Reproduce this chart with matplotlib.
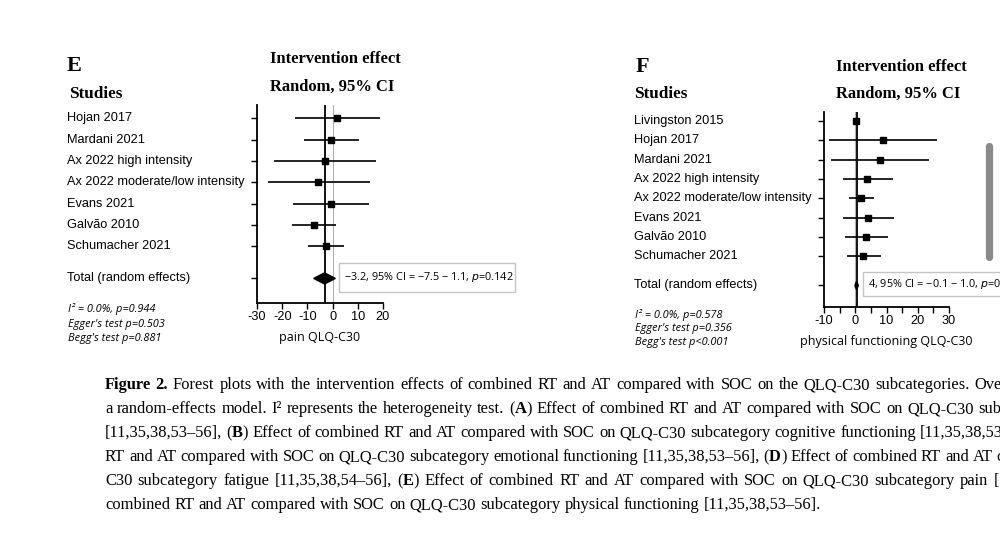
import numpy as np
import matplotlib
matplotlib.use('Agg')
import matplotlib.pyplot as plt
import matplotlib.transforms as mtransforms
from matplotlib.patches import Rectangle, Polygon
from matplotlib.lines import Line2D

# ---- data ----
studies_e = ['Hojan 2017', 'Mardani 2021', 'Ax 2022 high intensity',
             'Ax 2022 moderate/low intensity', 'Evans 2021', 'Galvão 2010',
             'Schumacher 2021']
est_e = [1.9, -0.6, -3.0, -5.7, -0.6, -7.4, -2.7]
lo_e = [-14.8, -11.4, -23.1, -25.7, -15.6, -16.0, -9.8]
hi_e = [18.9, 10.6, 17.2, 14.9, 14.6, 1.4, 4.4]
total_e = [-3.2, -7.5, 1.1]
stats_e = ['I² = 0.0%, p=0.944', "Egger's test p=0.503", "Begg's test p=0.881"]

studies_f = ['Livingston 2015', 'Hojan 2017', 'Mardani 2021', 'Ax 2022 high intensity',
             'Ax 2022 moderate/low intensity', 'Evans 2021', 'Galvão 2010',
             'Schumacher 2021']
est_f = [0.3, 8.8, 7.8, 3.8, 1.8, 4.0, 3.4, 2.6]
lo_f = [0.0, -8.5, -7.8, -4.0, -2.1, -4.0, -3.4, -2.7]
hi_f = [0.6, 26.3, 23.6, 12.0, 6.0, 12.4, 10.4, 8.1]
total_f = [0.4, -0.1, 1.0]
stats_f = ['I² = 0.0%, p=0.578', "Egger's test p=0.356", "Begg's test p<0.001"]

caption = [
    ['**Figure** **2.**', 'Forest', 'plots', 'with', 'the', 'intervention', 'effects', 'of', 'combined', 'RT',
     'and', 'AT', 'compared', 'with', 'SOC', 'on', 'the', 'QLQ-C30', 'subcategories.', 'Ove'],
    ['a', 'random-effects', 'model.', 'I²', 'represents', 'the', 'heterogeneity', 'test.', '(**A**)', 'Effect',
     'of', 'combined', 'RT', 'and', 'AT', 'compared', 'with', 'SOC', 'on', 'QLQ-C30', 'sub'],
    ['[11,35,38,53–56],', '(**B**)', 'Effect', 'of', 'combined', 'RT', 'and', 'AT', 'compared', 'with', 'SOC',
     'on', 'QLQ-C30', 'subcategory', 'cognitive', 'functioning', '[11,35,38,53'],
    ['RT', 'and', 'AT', 'compared', 'with', 'SOC', 'on', 'QLQ-C30', 'subcategory', 'emotional', 'functioning',
     '[11,35,38,53–56],', '(**D**)', 'Effect', 'of', 'combined', 'RT', 'and', 'AT', 'c'],
    ['C30', 'subcategory', 'fatigue', '[11,35,38,54–56],', '(**E**)', 'Effect', 'of', 'combined', 'RT', 'and',
     'AT', 'compared', 'with', 'SOC', 'on', 'QLQ-C30', 'subcategory', 'pain', '['],
    ['combined', 'RT', 'and', 'AT', 'compared', 'with', 'SOC', 'on', 'QLQ-C30', 'subcategory', 'physical',
     'functioning', '[11,35,38,53–56].'],
]

plt.rcParams.update({'font.family': 'Liberation Sans', 'axes.unicode_minus': False})

W, H = 1000, 543
fig = plt.figure(figsize=(W / 100, H / 100), dpi=100, facecolor='white')
renderer = fig.canvas.get_renderer()

def fx(x): return x / W
def fy(y): return 1 - y / H

SERIF = 'Liberation Serif'
SANS2 = 'Open Sans'


def forest(box, xlim, row0, row_h, studies, est, lo, hi, total, xt_major, xt_minor,
           xlabel, xlab_y, lab_x, stats, stat_x, stat_y, stat_dy, head, ann_box, ann_text, diam_h):
    l, t, r, b = box
    ax = fig.add_axes([fx(l), fy(b), (r - l) / W, (b - t) / H])
    n = len(studies)
    ypos = np.arange(n)
    ytot = n - 1 + 1.5
    ax.set_xlim(*xlim)
    ax.set_ylim((b - row0) / row_h, (t - row0) / row_h)
    for s in ['top', 'right']:
        ax.spines[s].set_visible(False)
    for s in ['left', 'bottom']:
        ax.spines[s].set_linewidth(1.3)
    ax.patch.set_alpha(0)
    ax.axvline(0, color='#b0b0b0', lw=0.8, zorder=1)
    ax.axvline(total[0], color='black', lw=1.3, zorder=2)
    ax.hlines(ypos, lo, hi, color='black', lw=1.2, zorder=3)
    ax.plot(est, ypos, ls='none', marker='s', ms=4.0, color='black', zorder=4)
    dx = [total[1], total[0], total[2], total[0]]
    dy = [ytot, ytot - diam_h, ytot, ytot + diam_h]
    ax.add_patch(Polygon(np.column_stack([dx, dy]), closed=True, color='black', zorder=4))
    ax.set_yticks(list(ypos) + [ytot])
    ax.tick_params(axis='y', length=4.5, width=1, direction='out', labelleft=False)
    ax.set_xticks(xt_major)
    ax.set_xticks(xt_minor, minor=True)
    ax.tick_params(axis='x', which='both', length=4, width=1, direction='out', labelsize=9.2, pad=2)
    tr = mtransforms.blended_transform_factory(fig.transFigure, ax.transData)
    for name, yy in zip(list(studies) + ['Total (random effects)'], list(ypos) + [ytot]):
        ax.text(fx(lab_x), yy, name, transform=tr, fontsize=9.2, va='center', ha='left')
    fig.text(fx((l + r) / 2), fy(xlab_y), xlabel, fontsize=9, family=SANS2, ha='center', va='center')
    for i, s in enumerate(stats):
        fig.text(fx(stat_x), fy(stat_y + i * stat_dy), s, fontsize=7.9, family=SANS2, style='italic',
                 ha='left', va='center')
    # headers
    letter, lx, ly, sx, sy, ix, iy, ry = head
    fig.text(fx(lx), fy(ly), letter, fontsize=16, family=SERIF, weight='bold', va='center')
    fig.text(fx(sx), fy(sy), 'Studies', fontsize=12.3, family=SERIF, weight='bold', va='center')
    fig.text(fx(ix), fy(iy), 'Intervention effect', fontsize=11.9, family=SERIF, weight='bold', va='center')
    fig.text(fx(ix), fy(ry), 'Random, 95% CI', fontsize=11.9, family=SERIF, weight='bold', va='center')
    # annotation box
    bl, bt, br, bb = ann_box
    fig.add_artist(Rectangle((fx(bl), fy(bb)), (br - bl) / W, (bb - bt) / H, transform=fig.transFigure,
                             facecolor='white', edgecolor='#c4c4c4', lw=1.0))
    fig.text(fx(bl + 5), fy((bt + bb) / 2), ann_text, fontsize=7.8, family=SANS2, va='center', ha='left')
    return ax


forest((257, 105, 383, 303), (-30, 20), 118.3, 21.35, studies_e, est_e, lo_e, hi_e, total_e,
       [-30, -20, -10, 0, 10, 20], [], 'pain QLQ-C30', 338, 67, stats_e, 68, 309, 15,
       ('E', 67, 66, 69, 94, 270, 59, 87), (339, 263, 515, 292),
       '−3.2, 95% CI = −7.5 − 1.1, $\\it{p}$=0.142', 0.26)

forest((824, 112, 949, 307), (-10, 30), 121, 19.35, studies_f, est_f, lo_f, hi_f, total_f,
       [-10, 0, 10, 20, 30], [-5, 5, 15, 25], 'physical functioning QLQ-C30', 342, 634, stats_f, 635, 315, 14,
       ('F', 636, 67, 634, 94, 836, 67, 94), (863, 272, 1010, 296),
       '4, 95% CI = −0.1 − 1.0, $\\it{p}$=0.142', 0.22)

# scrollbar remnant on the right
fig.add_artist(Line2D([fx(989), fx(989)], [fy(146), fy(257)], transform=fig.transFigure,
                      color='#8a8a8a', lw=5.2, solid_capstyle='round'))


# ---- caption, justified like the source page ----
def caption_line(words, y, x0, x1=None, size=11.9):
    objs_all, widths = [], []
    for w in words:
        parts = w.split('**')
        objs, off = [], 0.0
        for i, p in enumerate(parts):
            if not p:
                continue
            t = fig.text(0, fy(y), p, fontsize=size, family=SERIF,
                         weight='bold' if i % 2 else 'normal', va='center', ha='left')
            bw = t.get_window_extent(renderer).width
            objs.append((t, off))
            off += bw
        objs_all.append(objs)
        widths.append(off)
    if x1 is None:
        gap = size * 100 / 72 * 0.25
    else:
        gap = (x1 - x0 - sum(widths)) / (len(words) - 1)
    x = x0
    for objs, w in zip(objs_all, widths):
        for t, off in objs:
            t.set_x(fx(x + off))
        x += w + gap


cap_y = [385, 409, 433, 457, 481, 505]
cap_end = [1002, 1001, 1003, 1004, 999, None]
for words, yy, xe in zip(caption, cap_y, cap_end):
    caption_line(words, yy, 105, xe)

fig.savefig('out.png', dpi=100, facecolor='white')
